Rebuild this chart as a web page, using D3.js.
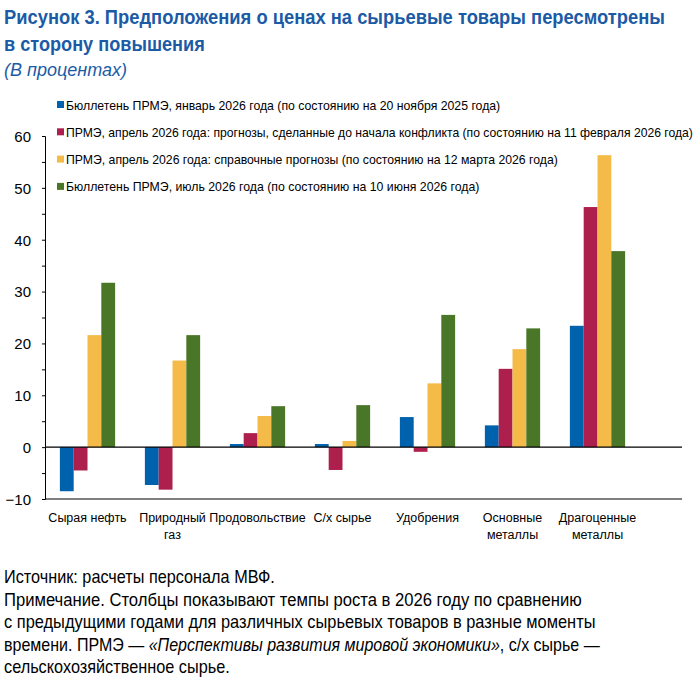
<!doctype html>
<html>
<head>
    <meta charset="utf-8">
    <script src="https://d3js.org/d3.v7.min.js"></script>
    <style>
        body { margin: 0; background: #fff; }
        svg text { font-family: "Liberation Sans", Arial, sans-serif; fill: #000; }
        .title { font-weight: bold; font-size: 20px; fill: #1b5ba6; }
        .subtitle { font-style: italic; font-size: 18px; fill: #1b5ba6; }
        .legend text { font-size: 13px; }
        .ytick text { font-size: 15px; }
        .cat text { font-size: 12.5px; }
        .note { font-size: 17.5px; }
    </style>
</head>
<body>
<script>
    // categories and series (percent change in 2026)
    let categories = [["Сырая нефть"], ["Природный", "газ"], ["Продовольствие"], ["С/х сырье"],
                      ["Удобрения"], ["Основные", "металлы"], ["Драгоценные", "металлы"]];
    let seriesNames = [
        "Бюллетень ПРМЭ, январь 2026 года (по состоянию на 20 ноября 2025 года)",
        "ПРМЭ, апрель 2026 года: прогнозы, сделанные до начала конфликта (по состоянию на 11 февраля 2026 года)",
        "ПРМЭ, апрель 2026 года: справочные прогнозы (по состоянию на 12 марта 2026 года)",
        "Бюллетень ПРМЭ, июль 2026 года (по состоянию на 10 июня 2026 года)"
    ];
    let jan2026 = [-8.5, -7.3, 0.6, 0.6, 5.8, 4.2, 23.4];
    let aprPre  = [-4.5, -8.2, 2.7, -4.4, -0.9, 15.1, 46.3];
    let aprRef  = [21.6, 16.7, 6.0, 1.2, 12.3, 18.9, 56.3];
    let jul2026 = [31.7, 21.6, 7.9, 8.1, 25.5, 22.9, 37.8];
    let yTicks = [-10, 0, 10, 20, 30, 40, 50, 60];
    let colors = ["#0061ad", "#ad1f4c", "#f4bb48", "#4a7628"];

    let series = [jan2026, aprPre, aprRef, jul2026];

    // the original uses a narrow font, so squeeze text horizontally to its width
    function fit(sel, w) {
        let node = sel.node();
        let x = +sel.attr("x");
        let w0 = node.getComputedTextLength();
        let k = w / w0;
        sel.attr("transform", "translate(" + x + ",0) scale(" + k + ",1) translate(" + (-x) + ",0)");
    }

    let svg = d3.select("body").append("svg")
        .attr("width", 700).attr("height", 679);

    // title
    svg.append("text").attr("class", "title").attr("x", 4).attr("y", 24)
        .text("Рисунок 3. Предположения о ценах на сырьевые товары пересмотрены").call(fit, 661);
    svg.append("text").attr("class", "title").attr("x", 4).attr("y", 51)
        .text("в сторону повышения").call(fit, 201);
    svg.append("text").attr("class", "subtitle").attr("x", 4).attr("y", 76)
        .text("(В процентах)").call(fit, 123);

    let y = d3.scaleLinear().domain([-10, 60]).range([499, 136]);
    let x0 = d3.scaleBand().domain(d3.range(categories.length)).range([45, 640]).paddingInner(0.35).paddingOuter(0.175);
    let x1 = d3.scaleBand().domain(d3.range(series.length)).range([0, x0.bandwidth()]);
    let xEnd = 682;

    // y axis with minor ticks every 5
    let yAxis = d3.axisLeft(y).tickValues(d3.range(-10, 61, 5)).tickSize(3)
        .tickFormat(d => yTicks.includes(d) ? (d < 0 ? "\u2212" + Math.abs(d) : d) : "");
    let ya = svg.append("g").attr("class", "ytick").attr("transform", "translate(45,0)").call(yAxis);
    ya.select(".domain").attr("stroke", "#000");
    ya.selectAll("text").attr("x", -14).attr("dy", "0.36em");

    // bars
    series.forEach((vals, s) => {
        svg.append("g").selectAll("rect").data(vals).join("rect")
            .attr("x", (d, i) => x0(i) + x1(s))
            .attr("width", x1.bandwidth())
            .attr("y", d => y(Math.max(0, d)))
            .attr("height", d => Math.abs(y(d) - y(0)))
            .attr("fill", colors[s]);
    });

    // zero line and bottom line
    svg.append("line").attr("x1", 45).attr("x2", xEnd).attr("y1", y(0)).attr("y2", y(0))
        .attr("stroke", "#000").attr("stroke-width", 1.2);
    svg.append("line").attr("x1", 45).attr("x2", xEnd).attr("y1", y(-10)).attr("y2", y(-10))
        .attr("stroke", "#000").attr("stroke-width", 1.2);

    // category labels
    let cat = svg.append("g").attr("class", "cat");
    categories.forEach((lines, i) => {
        lines.forEach((t, k) => {
            cat.append("text").attr("x", x0(i) + x0.bandwidth() / 2).attr("y", 522 + k * 17)
                .attr("text-anchor", "middle").text(t);
        });
    });

    // legend
    let legendW = [435, 628, 492, 414];
    let lg = svg.append("g").attr("class", "legend");
    seriesNames.forEach((name, i) => {
        let g = lg.append("g").attr("transform", "translate(57," + (105 + i * 27.3) + ")");
        g.append("rect").attr("x", 0).attr("y", -4).attr("width", 7).attr("height", 7).attr("fill", colors[i]);
        g.append("text").attr("x", 9).attr("y", 4.5).text(name).call(fit, legendW[i]);
    });

    // notes
    let notes = [
        [{t: "Источник: расчеты персонала МВФ."}],
        [{t: "Примечание. Столбцы показывают темпы роста в 2026 году по сравнению"}],
        [{t: "с предыдущими годами для различных сырьевых товаров в разные моменты"}],
        [{t: "времени. ПРМЭ — "}, {t: "«Перспективы развития мировой экономики»", i: true}, {t: ", с/х сырье —"}],
        [{t: "сельскохозяйственное сырье."}]
    ];
    let noteW = [271, 578, 592, 596, 226];
    notes.forEach((parts, k) => {
        let tx = svg.append("text").attr("class", "note").attr("x", 4).attr("y", 583 + k * 22.6);
        parts.forEach(p => tx.append("tspan").attr("font-style", p.i ? "italic" : null).text(p.t));
        tx.call(fit, noteW[k]);
    });
</script>
</body>
</html>
